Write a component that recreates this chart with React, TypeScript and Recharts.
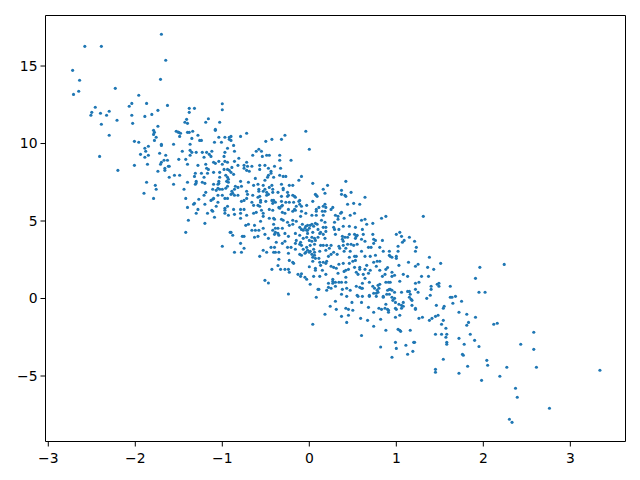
import React from 'react';
import { ScatterChart, Scatter, XAxis, YAxis, ReferenceLine } from 'recharts';

type Pt = [number, number];

const xTicks = [-3, -2, -1, 0, 1, 2, 3];
const yTicks = [-5, 0, 5, 10, 15];

// values, region by region
const farUpperLeft: Pt[] = [
  [-1.70,17.05],[-2.58,16.27],[-2.39,16.27],[-1.65,15.37],[-2.72,14.72],[-2.64,14.08],[-1.71,14.14],[-2.65,13.37],[-2.71,13.17],[-2.23,13.56],
  [-1.96,13.11],[-2.07,12.4],[-2.04,12.59],[-1.87,12.59],[-1.63,12.46],[-1.74,12.14],[-2.46,12.34],[-2.50,12.01],[-2.51,11.82],[-2.40,11.95],
  [-2.33,11.82],[-2.30,12.08],[-2.21,11.5],[-2.39,11.24],[-2.30,10.53],[-2.04,11.82],[-1.89,11.75],[-1.81,11.88],[-2.03,11.3],[-1.74,11.11],
  [-1.79,10.85],[-1.78,10.72],[-1.79,10.59],[-1.76,10.4],[-1.78,10.2],[-2.01,10.14],[-1.96,10.08],[-1.85,9.82],[-1.89,9.69],[-1.88,9.5],
  [-1.70,9.95],[-1.70,9.88],[-1.56,9.95],[-1.94,9.3],[-1.85,9.24],[-1.89,9.11],[-1.72,9.37],[-1.65,9.24],[-2.41,9.17],[-2.01,8.59],
  [-1.86,8.66],[-2.2,8.27],[-1.67,8.92],[-1.70,8.79],[-1.71,8.66],[-1.63,8.92],[-1.62,8.53],[-1.61,8.53],[-1.66,8.4],[-1.66,8.27],
  [-1.74,8.21],[-1.55,7.95],[-1.49,7.95],[-1.61,7.82],[-1.87,7.5],[-1.77,7.3],[-1.76,7.05],[-1.90,6.79],[-1.79,6.46],[-1.56,7.37],
  [-1.40,7.5],[-1.44,7.05],[-1.42,6.46],[-1.40,5.88],[-1.33,6.08],[-1.32,6.14],[-1.32,7.88],[-1.31,8.08],[-1.31,7.37],[-1.38,12.27],
  [-1.32,12.27],[-1.38,12.01],[-1.41,11.56],[-1.43,11.37],[-1.40,11.3],[-1.53,10.79],[-1.51,10.74],[-1.50,10.72],[-1.48,10.66],[-1.49,10.46],
  [-1.40,10.72],[-1.38,10.72],[-1.34,10.79],[-1.35,10.33],[-1.37,9.95],[-1.46,9.5],[-1.37,9.56],[-1.35,9.43],[-1.37,9.24],[-1.50,8.98],
  [-1.42,8.98],[-1.40,8.66],[-1.39,5.05],[-1.42,4.27],
];

const upperLeftCluster: Pt[] = [
  [-1.16,11.6],[-1.00,12.57],[-1.00,12.18],[-1.19,11.37],[-1.03,11.37],[-1.08,10.92],[-1.08,10.85],[-1.28,10.53],[-1.26,10.2],[-1.24,10.2],
  [-1.04,10.4],[-0.97,10.4],[-0.92,10.4],[-1.09,10.08],[-1.01,10.08],[-0.92,10.27],[-0.94,9.69],[-1.30,9.43],[-1.23,9.43],[-1.18,9.43],
  [-1.12,9.5],[-1.15,9.3],[-1.13,9.17],[-1.21,9.11],[-0.97,9.43],[-0.98,9.17],[-1.04,8.85],[-1.10,8.79],[-1.08,8.72],[-1.00,8.66],
  [-0.97,8.85],[-0.94,8.79],[-1.28,8.59],[-1.19,8.66],[-1.18,8.4],[-1.16,8.33],[-0.98,8.33],[-0.94,8.33],[-0.92,8.27],[-1.24,8.08],
  [-1.17,8.08],[-1.10,8.14],[-1.03,8.14],[-1.21,7.82],[-1.03,7.82],[-0.96,7.95],[-1.30,7.56],[-1.30,7.45],[-1.23,7.5],[-1.20,7.43],
  [-1.10,7.37],[-1.04,7.56],[-1.04,7.43],[-1.05,7.37],[-0.94,7.82],[-0.93,7.69],[-0.95,7.56],[-0.93,7.5],[-0.94,7.24],[-1.11,7.05],
  [-1.05,7.11],[-1.07,6.98],[-1.03,7.05],[-1.00,7.05],[-0.96,7.11],[-1.19,6.85],[-1.21,6.66],[-1.05,6.66],[-1.00,6.66],[-1.27,6.4],
  [-1.13,6.33],[-1.11,6.4],[-1.10,6.46],[-0.97,6.46],[-0.94,6.46],[-1.20,6.08],[-1.05,6.21],[-1.07,5.95],[-0.94,5.95],[-0.97,5.82],
  [-1.28,5.75],[-1.12,5.69],[-1.11,5.63],[-0.97,5.69],[-0.97,5.5],[-1.30,5.5],[-1.17,5.5],[-0.93,5.37],[-1.09,5.24],[-1.20,4.85],
  [-0.91,4.27],[-1.00,3.37],
];

const upperMiddle: Pt[] = [
  [-0.04,10.79],[-0.28,10.53],[-0.32,10.27],[-0.43,10.27],[-0.50,10.14],[-0.72,10.66],[-0.79,10.46],[-0.90,10.46],[-0.90,10.2],[-0.87,9.88],
  [-0.86,9.5],[-0.58,9.63],[-0.61,9.5],[-0.55,9.5],[-0.54,9.17],[-0.65,9.24],[-0.49,9.24],[-0.46,9.24],[-0.34,9.24],[-0.34,8.92],
  [-0.21,8.92],[0.00,9.63],[-0.86,8.85],[-0.81,9.05],[-0.72,8.79],[-0.82,8.59],[-0.89,8.46],[-0.75,8.59],[-0.75,8.4],[-0.71,8.53],
  [-0.66,8.53],[-0.72,8.27],[-0.69,8.21],[-0.57,8.59],[-0.51,8.59],[-0.57,8.33],[-0.47,8.4],[-0.40,8.53],[-0.44,8.21],[-0.33,8.4],
  [-0.44,8.08],[-0.47,7.95],[-0.48,7.82],[-0.41,7.82],[-0.34,7.95],[-0.30,7.88],[-0.27,7.88],[-0.90,8.14],[-0.87,8.01],[-0.09,7.88],
  [-0.12,7.63],[-0.62,7.75],[-0.79,7.56],[-0.70,7.5],[-0.64,7.3],[-0.59,7.37],[-0.51,7.63],[-0.32,7.37],[-0.23,7.3],[-0.19,7.3],
  [-0.30,7.11],[-0.30,7.02],[-0.36,6.85],[-0.85,7.24],[-0.82,7.17],[-0.78,7.24],[-0.86,7.05],[-0.72,6.92],[-0.71,6.72],[-0.53,7.3],
  [-0.58,7.05],[-0.51,7.05],[-0.46,7.17],[-0.43,7.3],[-0.42,7.05],[-0.53,6.92],[-0.58,6.92],[-0.49,6.85],[-0.42,6.85],[-0.89,6.92],
  [-0.88,6.79],[-0.90,6.72],[-0.86,6.66],[-0.82,6.66],[-0.65,6.66],[-0.59,6.53],[-0.57,6.59],[-0.49,6.66],[-0.47,6.72],[-0.32,6.59],
  [-0.25,6.85],[-0.24,6.66],[-0.25,6.59],[-0.19,6.66],[-0.17,6.59],[-0.16,6.53],[-0.75,6.33],[-0.78,6.27],[-0.72,6.46],[-0.66,6.21],
  [-0.56,6.33],[-0.56,6.21],[-0.50,6.27],[-0.43,6.33],[-0.41,6.33],[-0.42,6.14],[-0.39,6.21],[-0.32,6.27],[-0.27,6.21],[-0.23,6.21],
  [-0.18,6.21],[-0.11,6.33],[-0.11,6.08],[-0.12,6.27],
];

const centerLeft: Pt[] = [
  [-0.87,5.75],[-0.86,5.43],[-0.79,5.75],[-0.75,5.75],[-0.79,5.5],[-0.79,5.18],[-0.72,5.37],[-0.64,6.01],[-0.59,6.01],[-0.57,5.95],
  [-0.55,5.69],[-0.53,5.5],[-0.53,5.3],[-0.61,5.56],[-0.64,5.5],[-0.46,5.75],[-0.42,5.69],[-0.35,5.88],[-0.32,5.95],[-0.34,5.82],
  [-0.31,6.01],[-0.24,5.75],[-0.31,5.56],[-0.28,5.5],[-0.19,5.63],[-0.17,5.75],[-0.15,5.95],[-0.16,5.69],[-0.09,5.95],[-0.09,5.63],
  [-0.10,5.3],[-0.04,5.5],[-0.03,6.01],[-0.46,5.18],[-0.41,5.18],[-0.40,5.11],[-0.32,5.11],[-0.30,5.05],[-0.25,4.92],[-0.19,5.05],
  [-0.15,4.98],[-0.56,4.98],[-0.73,4.72],[-0.70,4.79],[-0.63,4.72],[-0.62,4.4],[-0.66,4.4],[-0.53,4.53],[-0.58,4.4],[-0.41,4.79],
  [-0.39,4.53],[-0.39,4.27],[-0.36,4.2],[-0.42,4.4],[-0.36,4.53],[-0.31,4.53],[-0.35,4.08],[-0.23,4.72],[-0.19,4.79],[-0.11,4.59],
  [-0.08,4.79],[-0.04,4.66],[-0.02,4.72],[-0.05,4.53],[-0.03,4.4],[0.00,4.53],[-0.02,4.4],[-0.07,4.4],[-0.09,4.46],[-0.90,4.27],
  [-0.88,4.08],[-0.77,4.01],[-0.75,4.01],[-0.59,4.01],[-0.63,3.95],[-0.51,4.14],[-0.47,3.88],[-0.40,4.14],[-0.28,4.2],[-0.24,4.01],
  [-0.28,3.69],[-0.31,3.56],[-0.38,3.63],[-0.16,4.2],[-0.11,4.08],[-0.07,3.88],[-0.15,3.75],[-0.10,3.63],[-0.03,3.95],[-0.02,4.2],
  [0.00,3.75],[-0.79,3.56],[-0.75,3.24],[-0.78,2.98],[-0.86,2.98],[-0.44,3.3],[-0.40,3.3],[-0.53,3.11],[-0.49,2.98],[-0.41,2.98],
  [-0.39,2.98],[-0.35,2.98],[-0.25,3.3],[-0.21,3.3],[-0.24,2.92],[-0.16,3.18],[-0.16,3.56],[-0.11,3.5],[-0.09,3.43],[-0.03,3.3],
  [-0.07,3.18],[-0.02,3.11],[-0.11,2.85],[-0.09,2.79],[-0.05,2.92],[0.00,2.98],[-0.04,2.98],[-0.57,2.72],[-0.35,2.53],[-0.23,2.46],
  [-0.18,2.27],[-0.19,2.34],[-0.43,1.88],[-0.36,2.13],[-0.28,1.88],[-0.24,1.88],[-0.23,1.69],[-0.33,1.88],[-0.51,1.17],[-0.13,1.56],
  [-0.09,1.59],[-0.10,1.43],[-0.05,1.37],[-0.03,1.24],[0.00,2.05],[-0.24,0.29],[-0.47,1.0],
];

const centerRightUpper: Pt[] = [
  [0.42,7.56],[0.04,7.43],[0.21,7.3],[0.07,6.72],[0.09,6.59],[0.08,6.66],[0.16,7.05],[0.18,6.79],[0.37,6.98],[0.37,6.72],
  [0.41,6.66],[0.42,6.59],[0.48,6.85],[0.64,6.53],[0.04,6.27],[0.51,6.14],[0.44,6.08],[0.58,6.08],[0.18,6.08],[0.16,5.95],
  [0.19,5.88],[0.11,5.88],[0.27,5.88],[0.25,5.75],[0.08,5.75],[0.08,5.63],[0.15,5.63],[0.18,5.63],[0.37,5.56],[0.36,5.5],
  [0.52,5.5],[0.47,5.37],[0.03,5.37],[0.08,5.37],[0.16,5.37],[0.30,5.37],[0.33,5.3],[0.40,5.18],[0.88,5.3],[0.83,5.18],
  [0.14,5.05],[0.33,5.11],[0.60,5.05],[0.64,5.11],[0.66,4.79],[0.73,4.85],[0.29,4.92],[0.18,4.92],[0.16,4.59],[0.07,4.85],
  [0.03,4.79],[0.09,4.79],[0.01,4.72],[0.05,4.66],[0.19,4.59],[0.28,4.59],[0.34,4.46],[0.39,4.66],[0.46,4.66],[0.53,4.59],
  [0.61,4.46],[0.73,4.14],[0.62,4.14],[0.29,4.46],[0.10,4.46],[0.04,4.27],[0.13,4.27],[0.12,4.2],[0.19,4.33],[0.10,3.95],
  [0.16,4.14],[0.18,3.88],[0.03,3.95],[0.06,3.88],[0.30,4.14],[0.52,4.14],[0.46,4.14],[0.54,4.01],[0.44,3.95],[0.38,4.01],
  [0.38,3.82],[0.41,3.95],[0.39,3.69],[0.53,3.88],[0.55,4.08],[0.60,3.82],[0.64,3.69],[0.74,3.82],[0.76,3.75],[0.84,3.75],
  [0.74,3.56],[0.68,3.3],[0.71,3.3],[0.81,3.3],[0.85,3.05],[0.92,3.05],[0.92,2.79],[0.03,3.69],[0.07,3.75],[0.01,3.43],
  [0.06,3.5],[0.13,3.43],[0.16,3.43],[0.20,3.43],[0.23,3.24],[0.25,3.43],[0.34,3.37],[0.35,3.24],[0.39,3.43],[0.42,3.24],
  [0.44,3.5],[0.48,3.5],[0.51,3.43],[0.55,3.5],[0.05,3.18],[0.01,3.05],[0.06,2.98],[0.12,3.05],[0.19,3.11],[0.06,2.79],
  [0.03,2.85],[0.04,2.66],[0.11,2.59],[0.07,2.59],[0.28,2.98],[0.25,2.85],[0.22,2.72],[0.32,2.85],[0.40,3.05],[0.47,3.05],
  [0.46,2.66],[0.52,2.72],[0.54,2.72],[0.60,3.05],[0.64,2.72],[0.70,2.72],[0.76,2.79],
];

const centerRightLower: Pt[] = [
  [0.04,2.4],[0.12,2.34],[0.16,2.34],[0.20,2.4],[0.13,2.14],[0.19,2.27],[0.25,2.08],[0.34,2.21],[0.39,2.27],[0.46,2.27],
  [0.50,2.4],[0.53,2.46],[0.74,2.34],[0.78,2.4],[0.81,2.4],[0.77,2.08],[0.88,1.88],[0.90,2.0],[0.52,2.01],[0.58,2.01],
  [0.58,1.88],[0.66,2.14],[0.64,1.88],[0.70,1.82],[0.28,2.01],[0.31,1.95],[0.33,1.63],[0.40,1.75],[0.42,1.82],[0.45,1.88],
  [0.07,1.95],[0.07,1.82],[0.15,1.82],[0.19,1.56],[0.05,1.43],[0.12,1.43],[0.42,1.37],[0.54,1.69],[0.56,1.56],[0.62,1.56],
  [0.68,1.63],[0.64,1.3],[0.81,1.82],[0.84,1.43],[0.87,1.56],[0.01,0.92],[0.22,0.98],[0.27,1.24],[0.27,1.11],[0.30,1.05],
  [0.27,0.98],[0.34,1.05],[0.37,1.05],[0.42,1.05],[0.30,0.79],[0.22,0.72],[0.25,0.66],[0.20,0.53],[0.10,0.59],[0.11,0.59],
  [0.38,0.59],[0.43,0.66],[0.47,0.53],[0.37,0.27],[0.43,0.14],[0.54,0.79],[0.58,0.72],[0.61,0.98],[0.60,0.66],[0.61,0.66],
  [0.69,1.05],[0.73,0.79],[0.75,0.66],[0.81,0.92],[0.79,0.85],[0.88,1.05],[0.91,1.05],[0.80,0.66],[0.78,0.53],[0.77,0.34],
  [0.79,0.4],[0.74,0.34],[0.90,0.53],[0.92,0.59],[0.89,0.27],[0.92,0.27],[0.85,0.14],[0.85,0.08],[0.77,0.14],[0.69,0.21],
  [0.69,0.14],[0.55,0.21],[0.56,0.14],[0.61,0.14],[0.49,-0.25],[0.60,-0.25],[0.08,0.08],[0.30,-0.18],[0.24,-0.5],[0.31,-0.7],
  [0.18,-1.02],[0.42,-0.63],[0.45,-0.7],[0.50,-0.76],[0.45,-1.08],[0.37,-1.15],[0.43,-1.54],[0.04,-1.66],[0.59,-1.28],[0.67,-1.41],
  [0.74,-1.79],[0.60,-2.39],[0.88,-2.05],[0.82,-1.34],[0.68,-0.57],[0.74,-0.89],[0.80,-0.63],[0.83,-0.7],[0.88,-0.37],[0.87,-0.63],
  [0.90,-0.7],[0.91,-0.76],[0.91,-0.89],[0.82,-3.13],
];

const lowerRightUpper: Pt[] = [
  [1.31,5.3],[1.00,4.14],[1.04,4.27],[1.06,4.01],[1.09,3.75],[1.07,3.63],[1.15,3.95],[1.21,3.69],[1.02,3.37],[1.23,3.3],
  [1.02,3.05],[1.22,3.05],[0.93,2.72],[0.95,2.66],[1.00,2.72],[1.00,2.59],[1.38,2.66],[1.14,2.34],[1.25,2.21],[1.22,2.08],
  [1.03,2.14],[1.36,2.01],[1.43,1.88],[1.51,2.27],[1.96,2.01],[0.95,1.69],[0.98,1.5],[0.95,1.43],[1.08,1.56],[1.13,1.43],
  [1.29,1.43],[1.37,1.43],[1.91,1.3],[1.04,1.11],[0.93,1.05],[1.26,1.05],[1.22,0.98],[1.49,0.98],[1.47,0.92],[1.49,0.79],
  [1.40,0.79],[1.40,0.59],[1.62,0.79],[1.22,0.59],[0.93,0.59],[0.95,0.53],[0.98,0.4],[1.06,0.4],[1.13,0.46],[1.15,0.46],
  [1.16,0.27],[1.25,0.4],[1.39,0.21],[1.15,0.08],[0.95,0.08],[0.98,0.01],[1.35,0.01],[1.17,-0.05],[1.62,0.08],[1.64,0.08],
  [1.68,0.14],[1.95,0.4],[2.02,0.4],
];

const lowerRightLower: Pt[] = [
  [0.96,-0.12],[0.99,-0.25],[1.03,-0.37],[1.08,-0.25],[1.06,-0.44],[1.08,-0.5],[0.99,-0.63],[1.00,-0.7],[1.06,-0.63],[1.18,-0.12],
  [1.18,-0.44],[1.22,-0.63],[1.22,-0.7],[1.46,-0.44],[1.54,-0.63],[1.55,-0.5],[1.65,-0.31],[1.75,-0.18],[1.72,-0.89],[1.81,-1.02],
  [1.91,-1.21],[0.99,-1.21],[1.04,-1.08],[1.26,-1.28],[1.30,-1.21],[1.38,-1.41],[1.41,-1.28],[1.45,-1.15],[1.48,-1.08],[1.54,-1.41],
  [1.52,-1.66],[1.57,-1.92],[1.83,-1.54],[1.81,-1.73],[2.12,-1.66],[2.16,-1.6],[1.02,-1.99],[1.04,-2.05],[1.05,-2.12],[1.16,-2.05],
  [1.45,-2.31],[1.52,-2.31],[1.58,-2.31],[1.57,-2.5],[1.72,-2.57],[1.85,-2.31],[1.90,-2.7],[0.99,-2.83],[1.20,-2.83],[1.21,-2.83],
  [1.11,-3.02],[1.00,-3.22],[1.19,-3.41],[1.13,-3.6],[0.95,-3.79],[1.58,-2.83],[1.58,-2.95],[1.78,-2.95],[1.95,-3.1],[1.76,-3.6],
  [1.77,-3.66],[1.54,-3.92],[2.04,-3.99],[2.05,-4.31],[1.82,-4.37],[2.27,-4.44],[1.45,-4.57],[1.45,-4.76],[1.72,-4.82],[2.19,-5.02],
  [1.98,-5.28],
];

const farLowerRight: Pt[] = [
  [2.24,2.2],[2.58,-2.18],[2.43,-2.95],[2.58,-3.28],[2.61,-4.44],[3.34,-4.63],[2.37,-5.79],[2.39,-6.37],[2.76,-7.08],[2.30,-7.79],[2.33,-7.99],
];

const chartData = [
  ...farUpperLeft,
  ...upperLeftCluster,
  ...upperMiddle,
  ...centerLeft,
  ...centerRightUpper,
  ...centerRightLower,
  ...lowerRightUpper,
  ...lowerRightLower,
  ...farLowerRight,
].map(([x, y]) => ({ x, y }));

const formatTick = (v: number) => String(v).replace('-', '\u2212');

const Dot = ({ cx, cy }: any) => <circle cx={cx} cy={cy} r={1.55} fill="#1f77b4" />;

const tickStyle = { fontFamily: 'DejaVu Sans', fontSize: 13.9, fill: '#000' };
const XDOMAIN: [number, number] = [-3.032, 3.634];
const YDOMAIN: [number, number] = [-9.226, 18.26];

export default function App() {
  return (
    <div style={{ position: 'absolute', left: 0, top: 0, width: 640, height: 480 }}>
      <ScatterChart width={640} height={480} margin={{ top: 15.5, right: 14.5, bottom: 0, left: 0.5 }}>
        <XAxis
          type="number"
          dataKey="x"
          domain={XDOMAIN}
          allowDataOverflow
          ticks={xTicks}
          interval={0}
          tickFormatter={formatTick}
          height={38.5}
          tickSize={5}
          tickMargin={7}
          tick={tickStyle}
          stroke="#000"
        />
        <YAxis
          type="number"
          dataKey="y"
          domain={YDOMAIN}
          allowDataOverflow
          ticks={yTicks}
          interval={0}
          tickFormatter={formatTick}
          width={45}
          tickSize={5}
          tickMargin={3}
          tick={tickStyle}
          stroke="#000"
        />
        {/* top and right spines */}
        <ReferenceLine x={XDOMAIN[1]} stroke="#000" ifOverflow="visible" />
        <ReferenceLine y={YDOMAIN[1]} stroke="#000" ifOverflow="visible" />
        <Scatter data={chartData} shape={Dot} isAnimationActive={false} />
      </ScatterChart>
    </div>
  );
}
